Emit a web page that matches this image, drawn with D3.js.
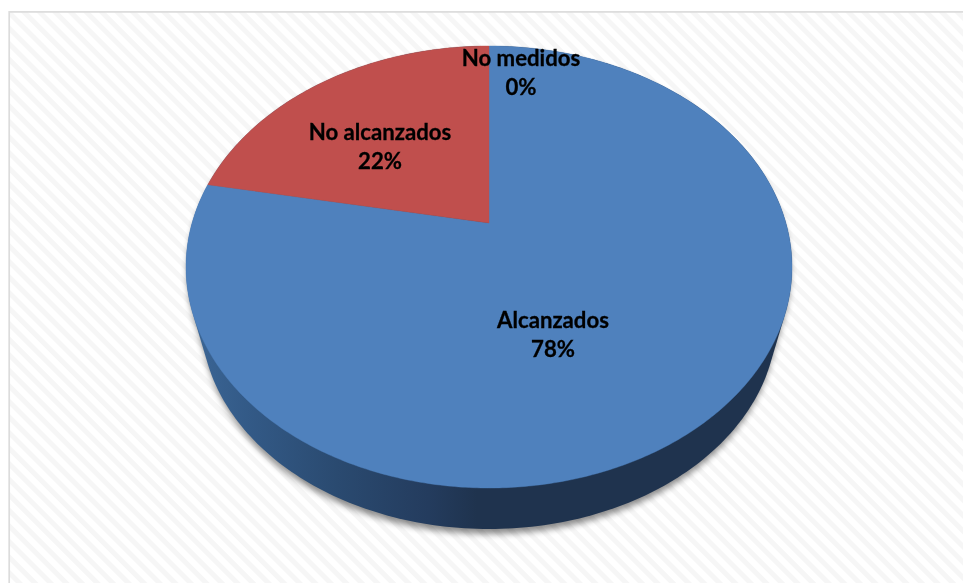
<!DOCTYPE html>
<html><head><meta charset="utf-8">
<script src="https://cdn.jsdelivr.net/npm/d3@7"></script>
<style>html,body{margin:0;padding:0;background:#fff;overflow:hidden}svg{display:block}</style>
</head><body><svg id="c" width="963" height="583"></svg>
<script>
const categories = ["Alcanzados", "No medidos", "No alcanzados"];
const values = [78, 0, 22];
const percentLabels = ["78%", "0%", "22%"];
const colors = ["#4f81bd", "#4f81bd", "#c0504d"];

const W = 963, H = 583;
const cx = 489, cy = 267, rx = 303, ry = 221, apexLift = 44;
const baseScale = 0.95, baseBottom = 529;
const svg = d3.select("#c");
const defs = svg.append("defs");

const pat = defs.append("pattern").attr("id","hatch").attr("width",11).attr("height",11)
  .attr("patternUnits","userSpaceOnUse").attr("patternTransform","rotate(45)");
pat.append("rect").attr("width",11).attr("height",11).attr("fill","#ffffff");
pat.append("rect").attr("width",11).attr("height",5).attr("fill","#f6f6f6");

const wall = defs.append("linearGradient").attr("id","wall")
  .attr("gradientUnits","userSpaceOnUse").attr("x1",cx-rx).attr("x2",cx+rx).attr("y1",0).attr("y2",0);
[[0,"#3c6797"],[0.1,"#335a87"],[0.25,"#2a4a70"],[0.4,"#243c5e"],[0.48,"#1f334e"],[1,"#1f334e"]]
  .forEach(s=>wall.append("stop").attr("offset",s[0]).attr("stop-color",s[1]));

const blur = defs.append("filter").attr("id","shadow").attr("x","-10%").attr("y","-10%").attr("width","120%").attr("height","130%");
blur.append("feGaussianBlur").attr("stdDeviation",3);
const soft = defs.append("filter").attr("id","soft");
soft.append("feGaussianBlur").attr("stdDeviation",0.35);
const softText = defs.append("filter").attr("id","softText");
softText.append("feGaussianBlur").attr("stdDeviation",0.3);

svg.append("rect").attr("x",9.2).attr("y",11.9).attr("width",W+20).attr("height",H+20)
  .attr("fill","url(#hatch)").attr("stroke","#dcdcdc").attr("stroke-width",1.7);

// Perspective projection of the unit disc onto the tilted ellipse
const c = apexLift/ry;
const d = rx*Math.sqrt(1-c*c);
function project(angle, r=1){
  const x = r*Math.sin(angle), y = r*Math.cos(angle), w = 1 + c*y;
  return [cx + d*x/w, cy - (ry*y + apexLift)/w];
}
const line = d3.line();
const fullCircle = d3.range(0, 360, 1).map(a=>a*Math.PI/180);
const rim = fullCircle.map(a=>project(a));

// side wall: hull of the top rim and the smaller base ellipse
const baseCy = baseBottom - ry*baseScale;
const base = rim.map(p=>[cx+(p[0]-cx)*baseScale, baseCy+(p[1]-cy)*baseScale]);
const hull = d3.polygonHull(rim.concat(base));
svg.append("path").attr("d",line(hull)+"Z").attr("transform","translate(0,5) translate(489,300) scale(0.995,1) translate(-489,-300)")
  .attr("fill","#000").attr("opacity",0.45).attr("filter","url(#shadow)");
svg.append("path").attr("d",line(hull)+"Z").attr("fill","url(#wall)");

const pie = d3.pie().sort(null).value(v=>v);
const arcs = pie(values);
const g = svg.append("g").attr("filter","url(#soft)");
arcs.forEach((a,i)=>{
  if(a.endAngle-a.startAngle<=0) return;
  const n = Math.ceil((a.endAngle-a.startAngle)/0.01);
  const pts = [project(0,0)];
  d3.range(n+1).forEach(k=>pts.push(project(a.startAngle+(a.endAngle-a.startAngle)*k/n)));
  g.append("path").attr("d",line(pts)+"Z").attr("fill",colors[i]).attr("stroke",colors[i]).attr("stroke-width",0.4);
});

const labelPos = {"Alcanzados":[553,320],"No medidos":[521,58],"No alcanzados":[380,132]};
const lg = svg.append("g").attr("filter","url(#softText)");
categories.forEach((name,i)=>{
  const t = lg.append("text").attr("text-anchor","middle")
    .attr("font-family","Lato, 'Open Sans', sans-serif").attr("font-weight",700)
    .attr("font-size",22.2).attr("fill","#000").attr("stroke","#000").attr("stroke-width",0.3);
  const [x,y]=labelPos[name];
  t.append("tspan").attr("x",x).attr("y",y+7.5).text(name);
  t.append("tspan").attr("x",x).attr("y",y+37).text(percentLabels[i]);
});
</script></body></html>
